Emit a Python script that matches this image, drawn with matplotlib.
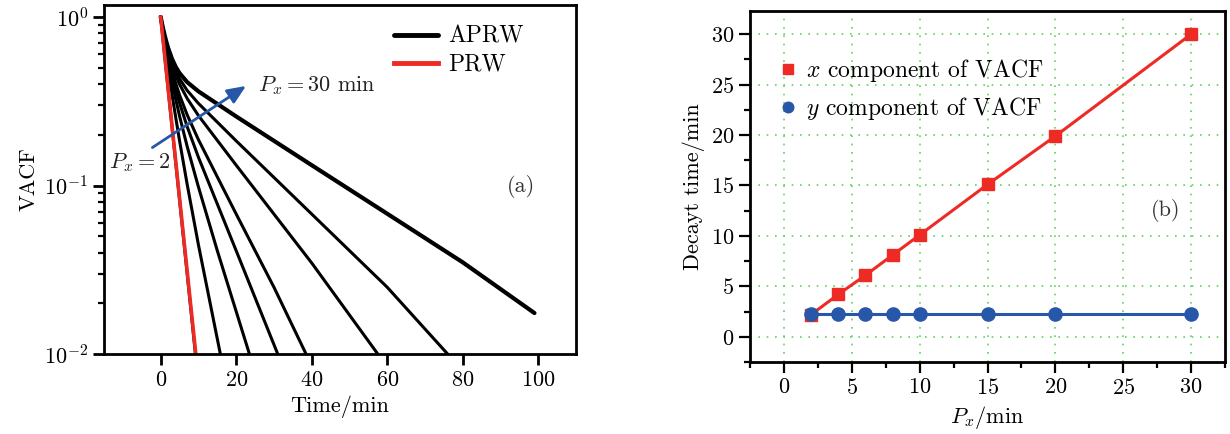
import matplotlib
matplotlib.use("Agg")
import matplotlib.pyplot as plt

plt.rcParams['font.family'] = ['cmr10', 'DejaVu Serif']
plt.rcParams['mathtext.fontset'] = 'cm'
plt.rcParams['axes.formatter.use_mathtext'] = True
plt.rcParams['font.size'] = 16

# ---------------- Panel (a) data: VACF curves ----------------
aprw_px = [2, 4, 6, 8, 10, 15, 20, 30]
knee_t = [0, 0.5, 1, 1.5, 2, 3, 4, 5, 7]
aprw_t = [
    [0, 9.2],
    knee_t + [10, 15.8],
    knee_t + [10, 15, 23.5],
    knee_t + [10, 20, 31.0],
    knee_t + [10, 20, 30, 38.5],
    knee_t + [10, 20, 40, 57.5],
    knee_t + [10, 20, 40, 60, 76.0],
    knee_t + [10, 20, 40, 60, 80, 99],
]
aprw_v = [
    [1.0, 0.01],
    [1.0, 0.831, 0.693, 0.580, 0.487, 0.348, 0.252, 0.184, 0.102, 0.0444, 0.01],
    [1.0, 0.849, 0.727, 0.626, 0.542, 0.415, 0.324, 0.258, 0.171, 0.098, 0.041, 0.01],
    [1.0, 0.859, 0.745, 0.651, 0.573, 0.455, 0.371, 0.309, 0.224, 0.147, 0.041, 0.01],
    [1.0, 0.865, 0.756, 0.667, 0.593, 0.482, 0.403, 0.344, 0.263, 0.187, 0.0677, 0.0249, 0.01],
    [1.0, 0.873, 0.771, 0.689, 0.622, 0.521, 0.451, 0.399, 0.329, 0.260, 0.132, 0.0347, 0.01],
    [1.0, 0.877, 0.779, 0.700, 0.636, 0.542, 0.477, 0.430, 0.367, 0.307, 0.184, 0.0677, 0.0249, 0.01],
    [1.0, 0.881, 0.787, 0.712, 0.652, 0.564, 0.505, 0.464, 0.411, 0.362, 0.257, 0.132, 0.068, 0.035, 0.0175],
]
prw_t = [0, 9.3]
prw_v = [1.0, 0.01]

# ---------------- Panel (b) data ----------------
px_values = [2, 4, 6, 8, 10, 15, 20, 30]
decay_x = [2.2, 4.2, 6.1, 8.1, 10.1, 15.1, 19.9, 30.0]
decay_y = [2.25, 2.25, 2.25, 2.25, 2.25, 2.25, 2.25, 2.25]

RED = '#ee2a24'
BLUE = '#2757a8'
GREEN = '#5fd35f'

fig = plt.figure(figsize=(12.3, 4.34), dpi=100)

# ================= Panel (a) =================
ax1 = fig.add_axes([0.0846, 0.1843, 0.3837, 0.8041])
for i, (t, v) in enumerate(zip(aprw_t, aprw_v)):
    lw = 3.0 if i == len(aprw_t) - 1 else 2.2
    ax1.plot(t, v, color='black', lw=lw, solid_capstyle='round', solid_joinstyle='round',
             label='APRW' if i == 0 else None)
ax1.plot(prw_t, prw_v, color=RED, lw=2.6, label='PRW')
ax1.set_yscale('log')
ax1.set_xlim(-15, 110)
ax1.set_ylim(0.01, 1.178)
ax1.set_xticks([0, 20, 40, 60, 80, 100])
ax1.set_xlabel('Time/min')
ax1.set_ylabel('VACF')
ax1.tick_params(axis='both', which='major', direction='out', length=8, width=2, labelsize=16)
ax1.tick_params(axis='y', which='minor', direction='out', length=4.5, width=1.6)
ax1.tick_params(axis='x', which='minor', bottom=False)
for s in ax1.spines.values():
    s.set_linewidth(2)
leg1 = ax1.legend(loc='upper left', bbox_to_anchor=(0.595, 0.968), frameon=False,
                  handlelength=1.85, handletextpad=0.45, labelspacing=0.25,
                  borderaxespad=0, fontsize=17)
for h in leg1.get_lines():
    h.set_linewidth(3.5)
ax1.annotate('', xy=(22.6, 0.39), xytext=(-2.2, 0.168),
             arrowprops=dict(arrowstyle='-|>,head_length=0.7,head_width=0.3',
                             color=BLUE, lw=2, shrinkA=0, shrinkB=0))
ax1.text(25.8, 0.39, r'$P_x = 30$ min', fontsize=16, ha='left', va='center', color='#222222')
ax1.text(2.6, 0.136, r'$P_x = 2$', fontsize=16, ha='right', va='center', color='#222222')
ax1.text(95.5, 0.098, '(a)', fontsize=16, ha='center', va='center', color='#333333')

# ================= Panel (b) =================
ax2 = fig.add_axes([0.6098, 0.1659, 0.3862, 0.8088])
ax2.plot(px_values, decay_x, color=RED, lw=2.2, marker='s', ms=9,
         label=r'$x$ component of VACF')
ax2.plot(px_values, decay_y, color=BLUE, lw=2.2, marker='o', ms=9.5,
         label=r'$y$ component of VACF')
ax2.set_xlim(-2.5, 32.5)
ax2.set_ylim(-2.5, 32.3)
ax2.set_xticks([0, 5, 10, 15, 20, 25, 30])
ax2.set_yticks([0, 5, 10, 15, 20, 25, 30])
ax2.set_xticks([-2.5, 2.5, 7.5, 12.5, 17.5, 22.5, 27.5, 32.5], minor=True)
ax2.set_yticks([-2.5, 2.5, 7.5, 12.5, 17.5, 22.5, 27.5], minor=True)
ax2.grid(True, which='major', color=GREEN, linestyle=(0, (1, 4)), lw=1.2)
ax2.set_axisbelow(True)
ax2.set_xlabel(r'$P_x$/min')
ax2.set_ylabel('Decayt time/min')
ax2.tick_params(axis='both', which='major', direction='out', length=8, width=1.6, labelsize=16)
ax2.tick_params(axis='both', which='minor', direction='out', length=4, width=1.6)
for s in ax2.spines.values():
    s.set_linewidth(2)
leg2 = ax2.legend(loc='upper left', bbox_to_anchor=(0.045, 0.895), frameon=False,
                  handlelength=0.6, handletextpad=0.45, labelspacing=0.45,
                  borderaxespad=0, fontsize=17, markerscale=0.8)
for h in leg2.get_lines():
    h.set_linestyle('none')
ax2.text(28.1, 12.5, '(b)', fontsize=16, ha='center', va='center', color='#333333')

fig.savefig('out.png', dpi=100)
